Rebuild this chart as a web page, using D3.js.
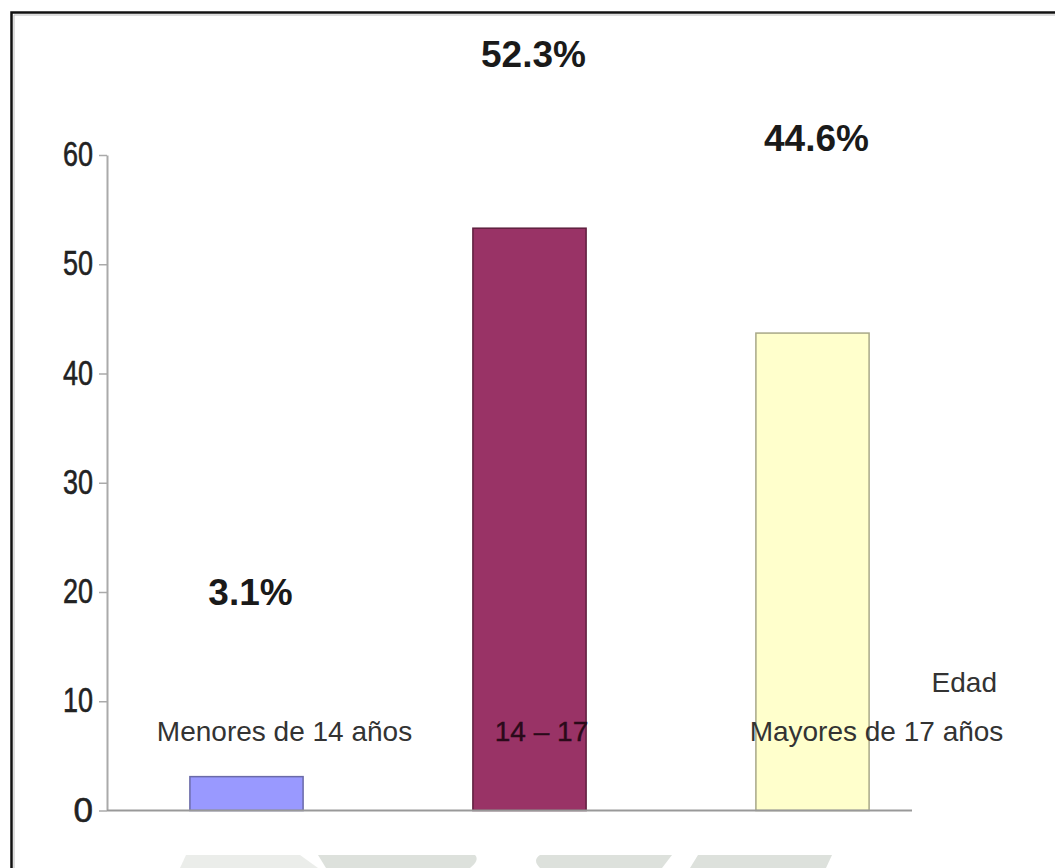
<!DOCTYPE html>
<html>
<head>
<meta charset="utf-8">
<script src="https://cdn.jsdelivr.net/npm/d3@7"></script>
<style>
  html, body { margin: 0; padding: 0; background: #fff; }
  svg { display: block; }
  text { font-family: "Liberation Sans", Arial, sans-serif; }
</style>
</head>
<body>
<svg id="chart" width="1055" height="868"></svg>
<script>
// ---- data ----
const categories = ["Menores de 14 años", "14 – 17", "Mayores de 17 años"];
const barValues = [3.1, 53.3, 43.7];          // bar heights as drawn
const pctValues = [3.1, 52.3, 44.6];          // percentages printed above bars
const pctLabels = ["3.1%", "52.3%", "44.6%"];
const barColors = ["#9999ff", "#993366", "#ffffcc"];
const barStrokes = ["#6a6aa8", "#5e1f3e", "#a8a888"];
const yTicks = [0, 10, 20, 30, 40, 50, 60];
const axisTitle = "Edad";

// ---- layout ----
const svg = d3.select("#chart");
const yAxisX = 107, xAxisEnd = 912;
const y = d3.scaleLinear().domain([0, 60]).range([810.5, 155]);
const x = d3.scaleBand().domain(categories).range([105, 954]).paddingInner(0.6).paddingOuter(0.3);
const catDx = [38, 12, 64];

// frame
svg.append("path").attr("d", "M11.5,868 V12.5 H1055").attr("fill", "none")
  .attr("stroke", "#111").attr("stroke-width", 2.5);
svg.append("path").attr("d", "M14,868 V15 H1055").attr("fill", "none")
  .attr("stroke", "#bbb").attr("stroke-width", 1);

// faint watermark at bottom
const wm = svg.append("g").attr("fill", "#dde1dc");
wm.append("path").attr("d", "M180,868 L186,855 L300,855 L318,868 Z").attr("opacity", 0.6);
wm.append("path").attr("d", "M326,868 L318,855 L475,855 Q480,860 470,868 Z");
wm.append("path").attr("d", "M540,868 Q532,860 540,855 L672,855 L662,868 Z");
wm.append("path").attr("d", "M690,868 L698,855 L832,855 L826,868 Z");

// bars
svg.append("g").selectAll("rect").data(categories).join("rect")
  .attr("x", d => x(d))
  .attr("width", x.bandwidth())
  .attr("y", (d, i) => y(barValues[i]))
  .attr("height", (d, i) => y(0) - y(barValues[i]))
  .attr("fill", (d, i) => barColors[i])
  .attr("stroke", (d, i) => barStrokes[i])
  .attr("stroke-width", 1.5);

// y axis
const yAxis = svg.append("g").attr("transform", `translate(${yAxisX},0)`)
  .call(d3.axisLeft(y).tickValues(yTicks).tickSize(8).tickSizeOuter(0).tickPadding(6));
yAxis.select(".domain").attr("stroke", "#aaa").attr("stroke-width", 2);
yAxis.selectAll(".tick line").attr("stroke", "#aaa").attr("stroke-width", 1.5);
yAxis.selectAll(".tick text")
  .attr("font-size", 35).attr("fill", "#222")
  .attr("stroke", "#222").attr("stroke-width", 0.6)
  .attr("font-family", "'Liberation Sans', Arial, sans-serif")
  .attr("dy", "0.3em")
  .each(function (d) {
    if (String(d).length > 1) d3.select(this).attr("textLength", 30).attr("lengthAdjust", "spacingAndGlyphs");
  });

// x axis line
svg.append("line").attr("x1", yAxisX).attr("x2", xAxisEnd)
  .attr("y1", y(0)).attr("y2", y(0))
  .attr("stroke", "#999").attr("stroke-width", 2);

// category labels
svg.append("g").selectAll("text").data(categories).join("text")
  .attr("x", (d, i) => x(d) + x.bandwidth() / 2 + catDx[i])
  .attr("y", 741)
  .attr("text-anchor", "middle")
  .attr("font-size", 28)
  .attr("fill", (d, i) => i === 1 ? "#2a0a1a" : "#333")
  .attr("stroke", (d, i) => i === 1 ? "#2a0a1a" : "none").attr("stroke-width", 0.4)
  .text(d => d);

// axis title
svg.append("text").attr("x", xAxisEnd + 85).attr("y", 692)
  .attr("text-anchor", "end").attr("font-size", 28).attr("fill", "#333")
  .text(axisTitle);

// percentage labels
svg.append("g").selectAll("text").data(categories).join("text")
  .attr("x", d => x(d) + x.bandwidth() / 2 + 4)
  .attr("y", (d, i) => y(pctValues[i]) - 172)
  .attr("text-anchor", "middle")
  .attr("font-size", 37)
  .attr("font-weight", "bold")
  .attr("fill", "#1a1a1a")
  .text((d, i) => pctLabels[i]);
</script>
</body>
</html>
